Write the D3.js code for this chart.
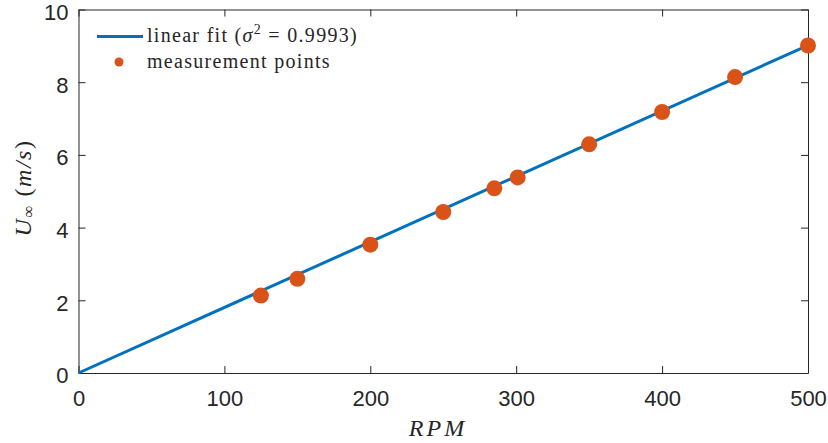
<!DOCTYPE html>
<html>
<head>
<meta charset="utf-8">
<script src="https://d3js.org/d3.v7.min.js"></script>
<style>
  body { margin: 0; background: #fff; }
  svg text { fill: #262626; }
</style>
</head>
<body>
<script>
  // measured data
  var rpm = [125, 150, 200, 250, 285, 301, 350, 400, 450, 500];
  var speed = [2.13, 2.59, 3.53, 4.43, 5.08, 5.38, 6.29, 7.18, 8.14, 9.01];
  var fitSlope = 0.01803;
  var xTicks = [0, 100, 200, 300, 400, 500];
  var yTicks = [0, 2, 4, 6, 8, 10];

  var W = 828, H = 443;
  var m = {left: 78.5, right: 20, top: 9.5, bottom: 70};

  var svg = d3.select("body").append("svg")
    .attr("width", W).attr("height", H);

  var x = d3.scaleLinear().domain([0, 500]).range([m.left, W - m.right]);
  var y = d3.scaleLinear().domain([0, 10]).range([H - m.bottom, m.top]);

  var axisColor = "#262626";
  var tickFont = "'Liberation Sans', Arial, sans-serif";

  // axes (box with mirrored ticks, like matlab)
  var gx = svg.append("g").attr("transform", "translate(0," + y(0) + ")")
    .call(d3.axisBottom(x).tickValues(xTicks).tickSizeInner(-7).tickSizeOuter(0).tickPadding(17));
  var gy = svg.append("g").attr("transform", "translate(" + x(0) + ",0)")
    .call(d3.axisLeft(y).tickValues(yTicks).tickSizeInner(-7).tickSizeOuter(0).tickPadding(10));
  var gxt = svg.append("g").attr("transform", "translate(0," + y(10) + ")")
    .call(d3.axisTop(x).tickValues(xTicks).tickSizeInner(-7).tickSizeOuter(0).tickFormat(""));
  var gyr = svg.append("g").attr("transform", "translate(" + x(500) + ",0)")
    .call(d3.axisRight(y).tickValues(yTicks).tickSizeInner(-7).tickSizeOuter(0).tickFormat(""));

  [gx, gy, gxt, gyr].forEach(function(g){
    g.selectAll("path, line").attr("stroke", axisColor).attr("stroke-width", 1);
    g.selectAll("text").attr("font-family", tickFont).attr("font-size", 22).attr("fill", axisColor);
  });
  gy.selectAll("text").attr("dy", "0.45em");

  // fit line
  svg.append("line")
    .attr("x1", x(0)).attr("y1", y(0))
    .attr("x2", x(500)).attr("y2", y(fitSlope * 500))
    .attr("stroke", "#0072BD").attr("stroke-width", 3);

  // points
  svg.selectAll("circle.pt")
    .data(rpm)
    .enter()
    .append("circle")
    .attr("class", "pt")
    .attr("cx", function(d){ return x(d); })
    .attr("cy", function(d, i){ return y(speed[i]); })
    .attr("r", 8)
    .attr("fill", "#D95319");

  // axis labels
  var serif = "'Liberation Serif', serif";
  svg.append("text")
    .attr("x", 438).attr("y", 436)
    .attr("text-anchor", "middle")
    .attr("font-family", serif).attr("font-style", "italic").attr("font-size", 24)
    .attr("letter-spacing", 3)
    .text("RPM");

  var yl = svg.append("text")
    .attr("transform", "translate(31,188) rotate(-90)")
    .attr("text-anchor", "middle")
    .attr("font-family", serif).attr("font-size", 24)
    .attr("letter-spacing", 1.5);
  yl.append("tspan").attr("font-style", "italic").text("U");
  yl.append("tspan").attr("font-size", 17).attr("dy", 3).text("∞");
  yl.append("tspan").attr("dy", -3).text(" (");
  yl.append("tspan").attr("font-style", "italic").text("m/s");
  yl.append("tspan").text(")");

  // legend
  var lg = svg.append("g").attr("font-family", serif).attr("font-size", 20)
    .attr("letter-spacing", 1.3);
  lg.append("line").attr("x1", 97).attr("x2", 143).attr("y1", 36.5).attr("y2", 36.5)
    .attr("stroke", "#0072BD").attr("stroke-width", 3);
  var t1 = lg.append("text").attr("x", 147).attr("y", 42);
  t1.append("tspan").text("linear fit (");
  t1.append("tspan").attr("font-style", "italic").text("σ");
  t1.append("tspan").attr("font-size", 14).attr("dy", -8).text("2");
  t1.append("tspan").attr("dy", 8).text("  =  0.9993)");
  lg.append("circle").attr("cx", 119).attr("cy", 62).attr("r", 4.5).attr("fill", "#D95319");
  lg.append("text").attr("x", 147).attr("y", 68).text("measurement points");
</script>
</body>
</html>
